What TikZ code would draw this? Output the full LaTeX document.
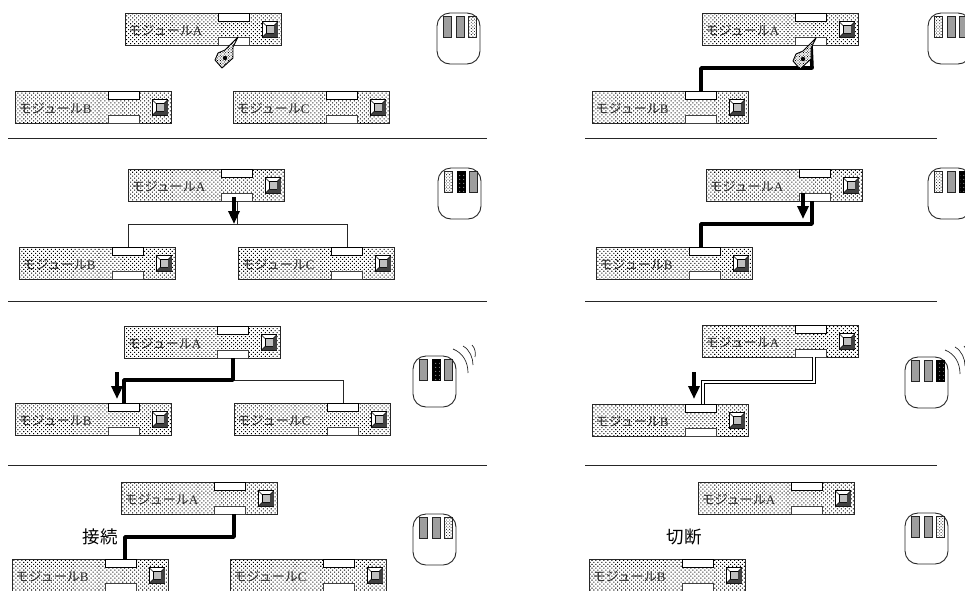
\documentclass[tikz,border=0pt]{standalone}
\usepackage{fontspec}
\setmainfont{Liberation Serif}
\newfontfamily\cjk{Noto Sans CJK JP}
\usetikzlibrary{calc,arrows.meta,patterns.meta}
\tikzset{
  modbody/.style={draw=black!85, line width=1pt, inner sep=0pt, outer sep=0pt, minimum width=156pt, minimum height=32pt,
    pattern={Dots[distance=2.8pt,radius=0.72pt,angle=45]}, pattern color=black, anchor=north west},
  portbox/.style={draw=black, fill=white, line width=1pt, inner sep=0pt, outer sep=0pt, minimum width=31pt, minimum height=8pt},
  portlow/.style={portbox, draw=black!75},
  iconbox/.style={draw=black, fill=white, line width=1pt, inner sep=0pt, outer sep=0pt, minimum size=15.5pt},
  iconcore/.style={draw=black, fill=black!25, line width=0.8pt, inner sep=0pt, outer sep=0pt, minimum size=8pt},
  modtext/.style={anchor=west, inner sep=0pt, text=black!85, font=\fontsize{13}{13}\selectfont},
  bigtext/.style={inner sep=0pt, font=\cjk\fontsize{17.5}{18}\selectfont},
  mousebody/.style={draw=black!85, fill=white, line width=0.9pt, rounded corners=13pt, inner sep=0pt, outer sep=0pt,
    minimum width=43pt, minimum height=51pt, anchor=north west},
  btngray/.style={draw=black!85, fill=black!38, line width=0.9pt, inner sep=0pt, minimum width=8pt, minimum height=21pt},
  btnlight/.style={draw=black!85, line width=0.9pt, inner sep=0pt, minimum width=8pt, minimum height=21pt,
    pattern={Dots[distance=2.2pt,radius=0.6pt,angle=45]}, pattern color=black!80},
  btnblack/.style={draw=black, inner sep=0pt, minimum width=8pt, minimum height=21pt,
    preaction={fill=black}, pattern={Dots[distance=4pt,radius=0.5pt]}, pattern color=white},
  wire/.style={line width=3.6pt, line join=round},
  thinwire/.style={line width=0.9pt, draw=black!85},
  dblwire/.style={double=white, line width=0.9pt, double distance=2.6pt},
  fatarrow/.style={line width=3.8pt, -{Triangle[width=11pt,length=13pt]}},
  sepline/.style={line width=0.9pt, draw=black!85},
  wave/.style={line width=0.7pt, draw=black!85}
}
% module box: name, left, top, letter
\newcommand{\modbox}[4]{
  \node[modbody] (#1) at (#2,#3) {};
  \node[portbox] (#1t) at ($(#1.north west)+(109,4)$) {};
  \node[portlow] (#1b) at ($(#1.north west)+(109,28)$) {};
  \node[modtext] (#1l) at ($(#1.north west)+(3.5,17.5)$) {{\cjk モジュール}#4};
  \node[iconbox] (#1i) at ($(#1.north west)+(145,16.5)$) {};
  \node[iconcore] (#1c) at (#1i) {};
  \fill[black!75] (#1i.south west) -- (#1c.south west) -- (#1c.south east) -- (#1c.north east) -- (#1i.north east) -- (#1i.south east) -- cycle;
  \draw[line width=0.6pt] (#1i.north west) -- (#1c.north west) (#1i.north east) -- (#1c.north east) (#1i.south west) -- (#1c.south west);
}
% mouse: name, left, top, three button styles
\newcommand{\mousebox}[6]{
  \node[mousebody] (#1) at (#2,#3) {};
  \node[#4] (#1x) at ($(#1.north west)+(10,14)$) {};
  \node[#5] (#1y) at ($(#1.north west)+(23,14)$) {};
  \node[#6] (#1z) at ($(#1.north west)+(35,14)$) {};
}
% pointer hand with its tip at x,y
\newcommand{\handtip}[2]{
  \begin{scope}[shift={(#1,#2)}]
    \fill[white] (0,0) -- (-13,13) -- (-20,16) -- (-23,23) -- (-16,31) -- (-5,21) -- (-5,10) -- cycle;
    \draw[line width=0.9pt, line join=round, pattern={Dots[distance=1.9pt,radius=0.6pt,angle=45]}]
      (0,0) -- (-13,13) -- (-20,16) -- (-23,23) -- (-16,31) -- (-5,21) -- (-5,10) -- cycle;
    \fill (-13,21) circle (2.2pt);
  \end{scope}
}
% signal arcs beside a mouse
\newcommand{\waves}[1]{
  \draw[wave] ($(#1.north west)+(40,-7)$) .. controls ($(#1.north west)+(50,-3)$) and ($(#1.north west)+(55,6)$) .. ($(#1.north west)+(55,17)$);
  \draw[wave] ($(#1.north west)+(50,-10)$) .. controls ($(#1.north west)+(57,-6)$) and ($(#1.north west)+(60,2)$) .. ($(#1.north west)+(60,9)$);
  \draw[wave] ($(#1.north west)+(59,-11)$) .. controls ($(#1.north west)+(62,-8)$) and ($(#1.north west)+(63,-3)$) .. ($(#1.north west)+(62,1)$);
}
\begin{document}
\begin{tikzpicture}[x=1pt, y=-1pt]
    \useasboundingbox (0,0) rectangle (965,590);
    \foreach \y in {138,301,465} {
        \draw[sepline] (8,\y) -- (487,\y);
        \draw[sepline] (585,\y) -- (937,\y);
    }
    % left column
    \modbox{la}{125}{13}{A}
    \modbox{lb}{15}{91}{B}
    \modbox{lc}{233}{91}{C}
    \mousebox{lm}{437}{13}{btngray}{btngray}{btnlight}
    \handtip{238}{37}

    \modbox{ld}{128}{169}{A}
    \modbox{le}{19}{247}{B}
    \modbox{lf}{238}{247}{C}
    \mousebox{ln}{438}{168}{btnlight}{btnblack}{btngray}
    \coordinate (lk) at (237,224);
    \draw[thinwire] (ldb.south) -- (lk);
    \draw[thinwire] (let.north) |- (lk);
    \draw[thinwire] (lft.north) |- (lk);
    \coordinate (lsa) at (234,197);
    \coordinate (lea) at (234,224);
    \draw[fatarrow] (lsa) -- (lea);

    \modbox{lg}{124}{326}{A}
    \modbox{lh}{15}{403}{B}
    \modbox{li}{234}{403}{C}
    \mousebox{lo}{413}{356}{btngray}{btnblack}{btngray}
    \waves{lo}
    \coordinate (ll) at (233,380);
    \draw[thinwire] (ll) -| (lit.north);
    \draw[wire] (lgb.south) -- (ll) -| (lht.north);
    \coordinate (lsb) at (117,372);
    \coordinate (leb) at (117,399);
    \draw[fatarrow] (lsb) -- (leb);

    \modbox{lj}{121}{482}{A}
    \modbox{lp}{12}{559}{B}
    \modbox{lq}{230}{559}{C}
    \mousebox{lr}{413}{514}{btngray}{btngray}{btnlight}
    \coordinate (ls) at (234,537);
    \draw[wire] ([xshift=4pt]ljb.south) -- (ls) -| ([xshift=4pt]lpt.north);
    \node[bigtext] (lw) at (100,537) {接続};

    % right column
    \modbox{ra}{702}{13}{A}
    \modbox{rb}{592}{91}{B}
    \mousebox{rm}{928}{13}{btnlight}{btngray}{btngray}
    \coordinate (rk) at (812,68);
    \draw[wire] (rab.south) -- (rk) -| (rbt.north);
    \handtip{816}{38}

    \modbox{rd}{706}{169}{A}
    \modbox{re}{596}{247}{B}
    \mousebox{rn}{928}{168}{btnlight}{btngray}{btnblack}
    \coordinate (rl) at (812,224);
    \draw[wire] ([xshift=-3pt]rdb.south) -- (rl) -| ([xshift=-4pt]ret.north);
    \coordinate (rsa) at (803,193);
    \coordinate (rea) at (803,219);
    \draw[fatarrow] (rsa) -- (rea);

    \modbox{rg}{702}{325}{A}
    \modbox{rh}{592}{404}{B}
    \mousebox{ro}{905}{357}{btngray}{btngray}{btnblack}
    \waves{ro}
    \coordinate (rp) at (814,382);
    \draw[dblwire] ([xshift=3pt]rgb.south) -- (rp) -| ([xshift=2pt]rht.north);
    \coordinate (rsb) at (694,372);
    \coordinate (reb) at (694,399);
    \draw[fatarrow] (rsb) -- (reb);

    \modbox{rj}{698}{482}{A}
    \modbox{rq}{589}{559}{B}
    \mousebox{rr}{905}{513}{btngray}{btngray}{btnlight}
    \node[bigtext] (rw) at (684,537) {切断};
\end{tikzpicture}
\end{document}
